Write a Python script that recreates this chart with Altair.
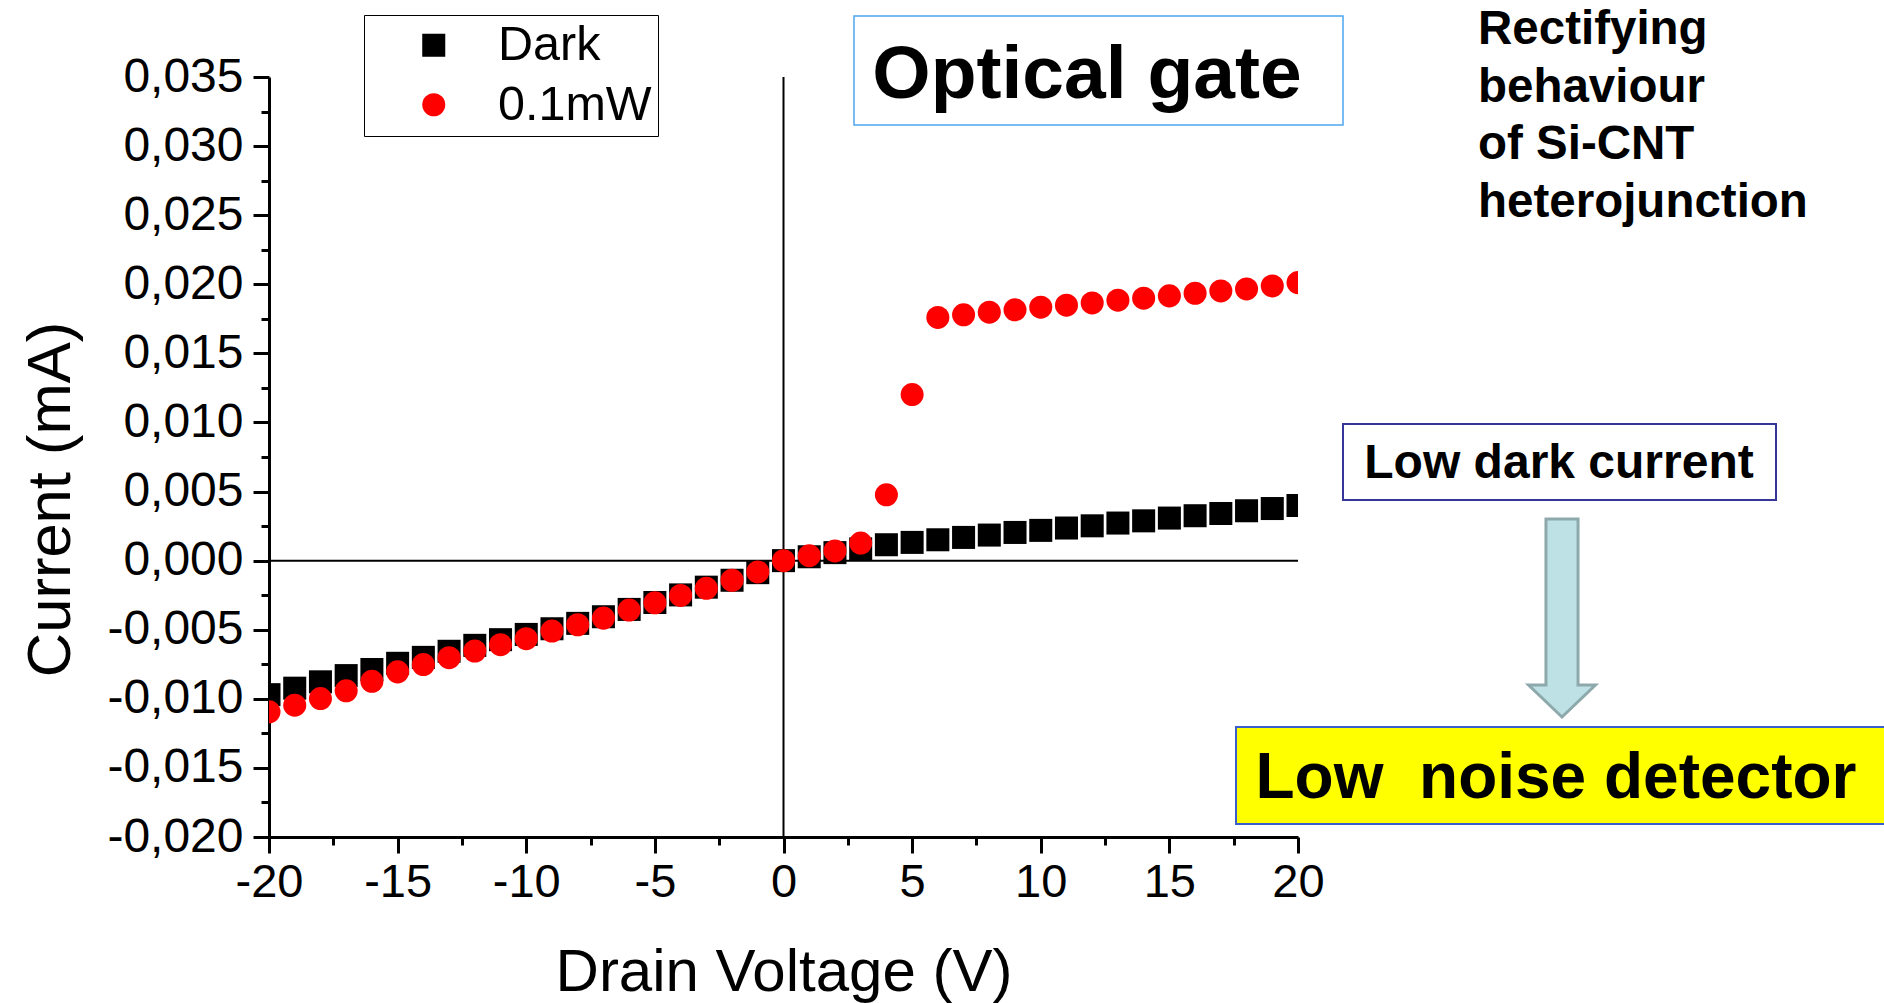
import altair as alt
import pandas as pd

FONT = "Liberation Sans"

# ---- data ----
voltage = list(range(-20, 21))
series_names = ["Dark", "0.1mW"]
dark_current = [-0.0097, -0.00923, -0.00877, -0.00832, -0.00788, -0.00743, -0.0070, -0.00656,
                -0.00613, -0.00572, -0.00534, -0.00493, -0.00454, -0.00406, -0.00353, -0.00303,
                -0.00248, -0.00192, -0.00142, -0.00087, 0.0,
                0.00028, 0.00058, 0.00085, 0.00115, 0.00132, 0.00151, 0.00168, 0.00185, 0.00204,
                0.00219, 0.00236, 0.00252, 0.00272, 0.00288, 0.00308, 0.00325, 0.00341, 0.00361,
                0.00377, 0.00399]
light_current = [-0.01094, -0.01046, -0.00998, -0.00942, -0.00873, -0.00805, -0.00752, -0.00702,
                 -0.00654, -0.00608, -0.00565, -0.0051, -0.00464, -0.00416, -0.00358, -0.00305,
                 -0.00252, -0.002, -0.00142, -0.00082, 0.0,
                 0.00036, 0.0007, 0.00127, 0.00476, 0.01202, 0.0176, 0.01779, 0.01798, 0.01815,
                 0.01834, 0.01849, 0.01865, 0.01885, 0.01899, 0.01916, 0.01935, 0.01952, 0.01966,
                 0.01988, 0.02012]

x_major_ticks = [-20, -15, -10, -5, 0, 5, 10, 15, 20]
x_minor_ticks = [-17.5, -12.5, -7.5, -2.5, 2.5, 7.5, 12.5, 17.5]
y_major_ticks = [-0.020, -0.015, -0.010, -0.005, 0.0, 0.005, 0.010, 0.015, 0.020, 0.025, 0.030, 0.035]
y_minor_ticks = [-0.0175, -0.0125, -0.0075, -0.0025, 0.0025, 0.0075, 0.0125, 0.0175, 0.0225,
                 0.0275, 0.0325]

x_title = "Drain Voltage (V)"
y_title = "Current (mA)"
note_optical = "Optical gate"
note_rectifying = "Rectifying\nbehaviour\nof Si-CNT\nheterojunction"
note_dark = "Low dark current"
note_noise = "Low\u00a0 noise detector"

df = pd.DataFrame({
    "V": voltage * 2,
    "I": dark_current + light_current,
    "series": [series_names[0]] * len(voltage) + [series_names[1]] * len(voltage),
})

x_scale = alt.Scale(domain=[-20, 20], nice=False, zero=False)
y_scale = alt.Scale(domain=[-0.020, 0.035], nice=False, zero=False)

common_axis = dict(domainColor="black", tickColor="black", labelColor="black", grid=False,
                   labelFont=FONT, tickWidth=3, domainWidth=3,
                   labelOverlap=False, labelFlush=False, titleFont=FONT,
                   titleFontWeight="normal", titleColor="black")

x_axis = alt.Axis(values=x_major_ticks, orient="bottom", tickSize=16, labelPadding=6,
                  labelFontSize=47,
                  labelExpr="replace(format(datum.value, 'd'), '\u2212', '-')",
                  title=x_title, titleFontSize=60, titleX=514.5, titleY=153, titleAlign="center",
                  titleBaseline="alphabetic", **common_axis)
y_axis = alt.Axis(values=y_major_ticks, orient="left", tickSize=16, labelPadding=10,
                  labelFontSize=48,
                  labelExpr="replace(replace(format(datum.value, '.3f'), '.', ','), '\u2212', '-')",
                  title=y_title, titleFontSize=61.5, titleX=-200, titleY=422, titleAngle=270,
                  titleAlign="center", titleBaseline="alphabetic", **common_axis)

legend = alt.Legend(title=None, orient="none", legendX=95, legendY=-62, fillColor="white",
                    strokeColor="black", padding=6, symbolOffset=39.5, labelOffset=40,
                    labelFontSize=48.5, labelFont=FONT, labelColor="black", rowPadding=10.5,
                    symbolSize=530, symbolStrokeWidth=0, labelLimit=400)

points = alt.Chart(df).mark_point(filled=True, size=530, opacity=1, clip=True).encode(
    x=alt.X("V:Q", scale=x_scale, axis=x_axis),
    y=alt.Y("I:Q", scale=y_scale, axis=y_axis),
    color=alt.Color("series:N", scale=alt.Scale(domain=series_names, range=["#000000", "#ff0000"]),
                    legend=legend),
    shape=alt.Shape("series:N", scale=alt.Scale(domain=series_names, range=["square", "circle"]),
                    legend=legend),
)

minor = alt.Chart(df).mark_point(opacity=0).encode(
    x=alt.X("V:Q", scale=x_scale,
            axis=alt.Axis(values=x_minor_ticks, orient="bottom", tickSize=8, tickWidth=3,
                          tickColor="black", labels=False, domain=False, grid=False, title=None)),
    y=alt.Y("I:Q", scale=y_scale,
            axis=alt.Axis(values=y_minor_ticks, orient="left", tickSize=8, tickWidth=3,
                          tickColor="black", labels=False, domain=False, grid=False, title=None)),
)

zero_h = alt.Chart(pd.DataFrame({"I": [0.0]})).mark_rule(color="black", strokeWidth=2).encode(
    y=alt.Y("I:Q", scale=y_scale, axis=None))
zero_v = alt.Chart(pd.DataFrame({"V": [0.0]})).mark_rule(color="black", strokeWidth=2).encode(
    x=alt.X("V:Q", scale=x_scale, axis=None))

one = pd.DataFrame({"k": [0]})

box_optical = alt.Chart(one).mark_rect(fill="white", stroke="#4da6f0", strokeWidth=1.5).encode(
    x=alt.value(585), x2=alt.value(1074), y=alt.value(-61), y2=alt.value(48))
txt_optical = alt.Chart(pd.DataFrame({"t": [note_optical]})).mark_text(
    font=FONT, fontSize=75, fontWeight="bold", color="black", align="center", baseline="middle"
).encode(text="t:N", x=alt.value(818), y=alt.value(-2))

txt_rect = alt.Chart(pd.DataFrame({"t": [note_rectifying]})).mark_text(
    font=FONT, fontSize=47.5, fontWeight="bold", color="black", align="left",
    baseline="alphabetic", lineBreak="\n", lineHeight=57.5
).encode(text="t:N", x=alt.value(1209), y=alt.value(-33))

box_dark = alt.Chart(one).mark_rect(fill="white", stroke="#35359a", strokeWidth=2).encode(
    x=alt.value(1074), x2=alt.value(1507), y=alt.value(347), y2=alt.value(423))
txt_dark = alt.Chart(pd.DataFrame({"t": [note_dark]})).mark_text(
    font=FONT, fontSize=48, fontWeight="bold", color="black", align="center", baseline="middle"
).encode(text="t:N", x=alt.value(1290), y=alt.value(387))

arrow_path = ("M -0.162 -1 L 0.162 -1 L 0.162 0.677 L 0.338 0.677 L 0 1 "
              "L -0.338 0.677 L -0.162 0.677 Z")
arrow = alt.Chart(one).mark_point(shape=arrow_path, size=39204, filled=True, fill="#bde1e4",
                                  stroke="#8ea9ab", strokeWidth=3, opacity=1).encode(
    x=alt.value(1293), y=alt.value(541))

box_noise = alt.Chart(one).mark_rect(fill="#ffff00", stroke="#3a5fcd", strokeWidth=2).encode(
    x=alt.value(967), x2=alt.value(1625), y=alt.value(650), y2=alt.value(747))
txt_noise = alt.Chart(pd.DataFrame({"t": [note_noise]})).mark_text(
    font=FONT, fontSize=64, fontWeight="bold", color="black", align="center", baseline="middle"
).encode(text="t:N", x=alt.value(1287), y=alt.value(702))

chart = alt.layer(
    zero_h, zero_v, minor, points,
    box_optical, txt_optical, txt_rect, box_dark, txt_dark, arrow, box_noise, txt_noise
).resolve_axis(x="independent", y="independent").properties(
    width=1029, height=760,
    autosize=alt.AutoSizeParams(type="none"),
    padding={"left": 269, "top": 77, "right": 586, "bottom": 166},
    background="white",
).configure_view(stroke=None)

chart.save("out.html", embed_options={"renderer": "svg", "actions": False})
